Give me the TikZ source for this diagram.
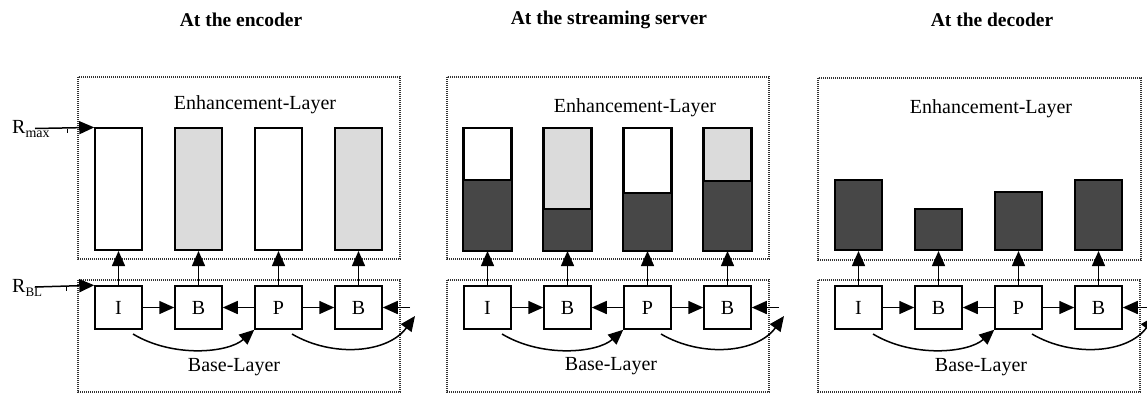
\documentclass[tikz,border=0pt]{standalone}
\usepackage{fontspec}
\setmainfont{Liberation Serif}
\usetikzlibrary{arrows.meta}

\definecolor{lightfill}{gray}{0.86}
\definecolor{darkfill}{gray}{0.28}
\definecolor{framegray}{gray}{0.2}

\tikzset{
  every node/.style={font=\fontsize{20}{24}\selectfont},
  title/.style={font=\fontsize{19.5}{23}\selectfont\bfseries},
  layerbox/.style={draw=framegray, line width=1.4pt, dash pattern=on 1.3pt off 0.7pt},
  frm/.style={draw, line width=1.5pt, minimum width=47pt, minimum height=43pt, inner sep=0pt, fill=white},
  ebar/.style={draw, line width=1.6pt, minimum width=47pt, inner sep=0pt, anchor=south},
  arr/.style={line width=1.5pt, -{Triangle[length=15pt,width=13pt]}},
  lbl/.style={inner sep=0pt, anchor=base west}
}

% base layer: frames, their upward links and prediction arrows
\newcommand\baselayer{%
  \draw[layerbox] (0,280) rectangle (322,392);
  \node[frm] (I)  at (40.5,307.5)  {I};
  \node[frm] (B1) at (120.5,307.5) {B};
  \node[frm] (P)  at (200.5,307.5) {P};
  \node[frm] (B2) at (280.5,307.5) {B};
  \draw[arr] (I) -- (B1);
  \draw[arr] (P) -- (B1);
  \draw[arr] (P) -- (B2);
  \coordinate (ext) at (332,307.5);
  \draw[arr] (ext) -- (B2);
  \coordinate (c1s) at (55,334);
  \coordinate (c2s) at (214,334);
  \coordinate (c2e) at (337,316);
  \draw[arr] (c1s) .. controls (95,358) and (150,353) .. (P.south west);
  \draw[arr] (c2s) .. controls (255,358) and (310,353) .. (c2e);
  \draw[arr] (I) -- (e1);
  \draw[arr] (B1) -- (e2);
  \draw[arr] (P) -- (e3);
  \draw[arr] (B2) -- (e4);
}

% a two-part enhancement bar: full bar with top fill, dark part below
\newcommand\splitbar[4]{% name, x centre, top fill, top of dark part
  \node[ebar, fill=#3, minimum height=122pt] (#1) at (#2,251) {};
  \fill[darkfill] (#2-23.5,#4) rectangle (#2+23.5,251);
  \draw[line width=1.6pt] (#1.south west) rectangle (#1.north east);
  \draw[line width=1.6pt] (#2-23.5,#4) -- (#2+23.5,#4);
}

\begin{document}
\begin{tikzpicture}[x=1pt,y=-1pt]
\clip (0,0) rectangle (1147,394);

% titles
\node[title] (t1) at (241,20) {At the encoder};
\node[title] (t2) at (609,20) {At the streaming server};
\node[title] (t3) at (992,20) {At the decoder};

% ---------- encoder ----------
\begin{scope}[xshift=78pt, name prefix=enc-]
  \draw[layerbox] (0,77) rectangle (322,259);
  \node (el) at (177,105) {Enhancement-Layer};
  \node[ebar, fill=white,     minimum height=122pt] (e1) at (40.5,251) {};
  \node[ebar, fill=lightfill, minimum height=122pt] (e2) at (120.5,251) {};
  \node[ebar, fill=white,     minimum height=122pt] (e3) at (200.5,251) {};
  \node[ebar, fill=lightfill, minimum height=122pt] (e4) at (280.5,251) {};
  \baselayer
  \node (bl) at (156,367) {Base-Layer};
\end{scope}

% rate labels
\node[lbl] (rmax) at (12,133) {R\raisebox{-4.5pt}{\fontsize{14}{14}\selectfont max}};
\node[lbl] (rbl)  at (12,292) {R\raisebox{-4.5pt}{\fontsize{13}{13}\selectfont BL}};
\coordinate (rmaxs) at (35,128.5);
\coordinate (rbls)  at (35,287);
\draw[arr] (rmaxs) -- (enc-e1.north west);
\draw[arr] (rbls) -- (enc-I.north west);
\draw[line width=1pt] (67,128.5) -- (67,133);
\draw[line width=1pt] (66,287) -- (66,291);

% ---------- streaming server ----------
\begin{scope}[xshift=447pt, name prefix=srv-]
  \draw[layerbox] (0,77) rectangle (322,259);
  \node (el) at (188,108) {Enhancement-Layer};
  \splitbar{e1}{40.5}{white}{180}
  \splitbar{e2}{120.5}{lightfill}{209}
  \splitbar{e3}{200.5}{white}{193}
  \splitbar{e4}{280.5}{lightfill}{181}
  \baselayer
  \node (bl) at (164,366) {Base-Layer};
\end{scope}

% ---------- decoder ----------
\begin{scope}[xshift=818pt, name prefix=dec-]
  \draw[layerbox] (0,78) rectangle (323,260);
  \node (el) at (173,109) {Enhancement-Layer};
  \node[ebar, fill=darkfill, minimum height=70pt] (e1) at (40.5,251) {};
  \node[ebar, fill=darkfill, minimum height=41pt] (e2) at (120.5,251) {};
  \node[ebar, fill=darkfill, minimum height=58pt] (e3) at (200.5,251) {};
  \node[ebar, fill=darkfill, minimum height=70pt] (e4) at (280.5,251) {};
  \baselayer
  \node (bl) at (163,367) {Base-Layer};
\end{scope}
\end{tikzpicture}
\end{document}
